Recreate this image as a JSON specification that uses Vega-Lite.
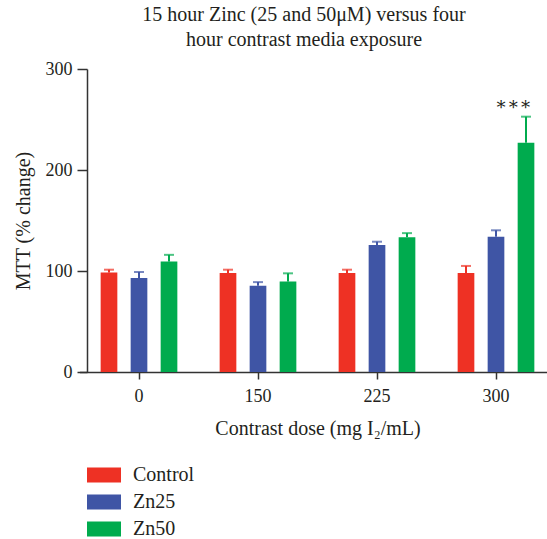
{
  "$schema": "https://vega.github.io/schema/vega-lite/v6.json",
  "width": 434,
  "height": 303,
  "padding": {"left": 13, "top": 5, "right": 0, "bottom": 0},
  "background": "white",
  "title": {
    "text": ["15 hour Zinc (25 and 50μM) versus four", "hour contrast media exposure"],
    "font": "Liberation Serif",
    "fontSize": 20,
    "fontWeight": "normal",
    "color": "#231f20",
    "lineHeight": 25,
    "offset": 10
  },
  "config": {
    "view": {"stroke": null},
    "axis": {
      "domainColor": "#333333",
      "tickColor": "#333333",
      "domainWidth": 1.5,
      "tickWidth": 1.5,
      "labelFont": "Liberation Serif",
      "labelFontSize": 18,
      "labelColor": "#231f20",
      "titleFont": "Liberation Serif",
      "titleFontSize": 20,
      "titleFontWeight": "normal",
      "titleColor": "#231f20",
      "grid": false
    },
    "legend": {
      "labelFont": "Liberation Serif",
      "labelFontSize": 20,
      "labelColor": "#231f20"
    }
  },
  "data": {
    "values": [
      {"dose": "0", "group": "Control", "mean": 98.4, "upper": 101.3, "sig": ""},
      {"dose": "0", "group": "Zn25", "mean": 93, "upper": 99, "sig": ""},
      {"dose": "0", "group": "Zn50", "mean": 109.3, "upper": 116, "sig": ""},
      {"dose": "150", "group": "Control", "mean": 98, "upper": 101.3, "sig": ""},
      {"dose": "150", "group": "Zn25", "mean": 85.5, "upper": 89, "sig": ""},
      {"dose": "150", "group": "Zn50", "mean": 89.5, "upper": 97.7, "sig": ""},
      {"dose": "225", "group": "Control", "mean": 98, "upper": 101.3, "sig": ""},
      {"dose": "225", "group": "Zn25", "mean": 125.7, "upper": 129, "sig": ""},
      {"dose": "225", "group": "Zn50", "mean": 133.5, "upper": 137.5, "sig": ""},
      {"dose": "300", "group": "Control", "mean": 98, "upper": 105, "sig": ""},
      {"dose": "300", "group": "Zn25", "mean": 134, "upper": 140.3, "sig": ""},
      {"dose": "300", "group": "Zn50", "mean": 227, "upper": 252.8, "sig": "∗∗∗"}
    ]
  },
  "encoding": {
    "x": {
      "field": "dose",
      "type": "nominal",
      "sort": ["0", "150", "225", "300"],
      "scale": {"range": [-7.5, 468.5], "paddingInner": 0, "paddingOuter": 0},
      "axis": {
        "title": "Contrast dose (mg I₂/mL)",
        "labelAngle": 0,
        "tickSize": 7,
        "labelPadding": 8,
        "titlePadding": 13
      }
    },
    "xOffset": {
      "field": "group",
      "type": "nominal",
      "sort": ["Control", "Zn25", "Zn50"],
      "scale": {"paddingInner": 0.444, "paddingOuter": 0.705}
    }
  },
  "layer": [
    {
      "mark": {"type": "bar"},
      "encoding": {
        "y": {
          "field": "mean",
          "type": "quantitative",
          "scale": {"domain": [0, 300]},
          "axis": {
            "title": "MTT (% change)",
            "values": [0, 100, 200, 300],
            "tickSize": 10,
            "labelPadding": 5,
            "titlePadding": 12
          }
        },
        "color": {
          "field": "group",
          "type": "nominal",
          "sort": ["Control", "Zn25", "Zn50"],
          "scale": {"domain": ["Control", "Zn25", "Zn50"], "range": ["#EE3124", "#3F55A5", "#00AB4E"]},
          "legend": {
            "title": null,
            "orient": "bottom",
            "direction": "vertical",
            "symbolType": "M-1,-0.44H1V0.44H-1Z",
            "symbolSize": 1156,
            "symbolStrokeWidth": 0,
            "symbolOpacity": 1,
            "labelOffset": 12,
            "rowPadding": -8,
            "offset": 20
          }
        }
      }
    },
    {
      "mark": {"type": "rule", "strokeWidth": 2},
      "encoding": {
        "y": {"field": "mean", "type": "quantitative"},
        "y2": {"field": "upper"},
        "color": {"field": "group", "type": "nominal", "legend": null}
      }
    },
    {
      "mark": {"type": "tick", "thickness": 2, "size": 10},
      "encoding": {
        "y": {"field": "upper", "type": "quantitative"},
        "color": {"field": "group", "type": "nominal", "legend": null}
      }
    },
    {
      "mark": {"type": "text", "dy": -12, "dx": -13, "font": "DejaVu Serif", "fontSize": 18, "color": "#231f20", "letterSpacing": 1},
      "encoding": {
        "y": {"field": "upper", "type": "quantitative"},
        "text": {"field": "sig"}
      }
    }
  ]
}
